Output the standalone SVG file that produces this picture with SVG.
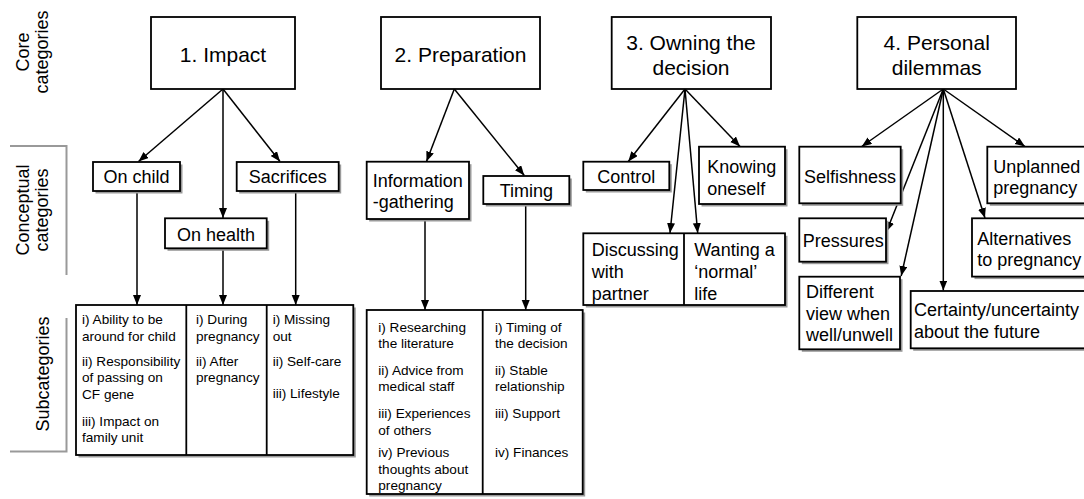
<svg xmlns="http://www.w3.org/2000/svg" width="1084" height="499" viewBox="0 0 1084 499">
<defs>
<marker id="ah" markerUnits="userSpaceOnUse" markerWidth="11" markerHeight="9" refX="10" refY="4" orient="auto"><path d="M0,0 L10,4 L0,8 z" fill="#000"/></marker>
</defs>
<style>
text{font-family:"Liberation Sans",Arial,Helvetica,sans-serif;fill:#000}
.core rect{fill:#fff;stroke:#000;stroke-width:1.8}
.core text{font-size:21px;text-anchor:middle}
.box{fill:#fff;stroke:#000;stroke-width:1.8}
.sh{fill:#9a9a9a}
.cc{font-size:18px}
.mid{text-anchor:middle}
.sub{font-size:13.6px}
.lbl{font-size:18px;text-anchor:middle}
.br{fill:none;stroke:#999;stroke-width:2}
.con line{stroke:#000;stroke-width:1.5}
.arr{marker-end:url(#ah)}
.div{stroke:#000;stroke-width:1.8}
</style>
<rect width="1084" height="499" fill="#fff"/>

<g id="axis-labels">
<text class="lbl" transform="translate(28.5,52) rotate(-90)">Core</text>
<text class="lbl" transform="translate(48,52) rotate(-90)">categories</text>
<text class="lbl" transform="translate(28.5,210) rotate(-90)">Conceptual</text>
<text class="lbl" transform="translate(48,210) rotate(-90)">categories</text>
<text class="lbl" transform="translate(48.5,374) rotate(-90)">Subcategories</text>
<path class="br" d="M10,146 H66.5 V275"/>
<path class="br" d="M66.5,318 V451.5 H10"/>
</g>

<g id="connectors" class="con">
<line class="arr" x1="223" y1="89" x2="138.5" y2="161.5"/>
<line class="arr" x1="223" y1="89" x2="223" y2="218"/>
<line class="arr" x1="223" y1="89" x2="280" y2="161.5"/>
<line class="arr" x1="137" y1="191" x2="137" y2="305"/>
<line class="arr" x1="223" y1="248.5" x2="223" y2="305"/>
<line class="arr" x1="295.7" y1="191" x2="295.7" y2="305"/>
<line class="arr" x1="454.3" y1="89" x2="426.5" y2="161.5"/>
<line class="arr" x1="454.3" y1="89" x2="524.3" y2="175.5"/>
<line class="arr" x1="425" y1="219" x2="425" y2="310"/>
<line class="arr" x1="525.7" y1="204" x2="525.7" y2="310"/>
<line class="arr" x1="685" y1="89" x2="628.3" y2="161.5"/>
<line class="arr" x1="685" y1="89" x2="740" y2="146.5"/>
<line class="arr" x1="685" y1="89" x2="670" y2="233"/>
<line class="arr" x1="685" y1="89" x2="697.7" y2="233"/>
<line class="arr" x1="943.3" y1="89" x2="861.7" y2="146.5"/>
<line class="arr" x1="943.3" y1="89" x2="886.5" y2="231.5"/>
<line class="arr" x1="943.3" y1="89" x2="901.2" y2="276"/>
<line class="arr" x1="943.3" y1="89" x2="943.3" y2="290.5"/>
<line class="arr" x1="943.3" y1="89" x2="985" y2="218"/>
<line class="arr" x1="943.3" y1="89" x2="1025" y2="146.5"/>
</g>

<g id="core-impact" class="core"><rect x="151" y="17" width="144" height="72"/><text x="223" y="61.5">1. Impact</text></g>
<g id="core-preparation" class="core"><rect x="381" y="17" width="159" height="72"/><text x="460.5" y="61.5">2. Preparation</text></g>
<g id="core-owning" class="core"><rect x="611.7" y="17" width="159.3" height="72"/><text x="691" y="50">3. Owning the</text><text x="691" y="75">decision</text></g>
<g id="core-personal" class="core"><rect x="857.3" y="17" width="158.7" height="72"/><text x="936.7" y="50">4. Personal</text><text x="936.7" y="75">dilemmas</text></g>

<g id="on-child"><rect class="sh" x="95.5" y="164.5" width="87" height="29"/><rect class="box" x="93" y="162" width="87" height="29"/><text class="cc mid" x="136.5" y="183.3">On child</text></g>
<g id="sacrifices"><rect class="sh" x="239.2" y="164.5" width="102" height="29"/><rect class="box" x="236.7" y="162" width="102" height="29"/><text class="cc mid" x="287.7" y="183.3">Sacrifices</text></g>
<g id="on-health"><rect class="sh" x="167.5" y="220.8" width="101.7" height="30"/><rect class="box" x="165" y="218.3" width="101.7" height="30"/><text class="cc mid" x="216" y="240.5">On health</text></g>

<g id="info-gathering"><rect class="sh" x="369.2" y="164.2" width="102.3" height="57.3"/><rect class="box" x="366.7" y="161.7" width="102.3" height="57.3"/><text class="cc" x="372.7" y="186.5">Information</text><text class="cc" x="372.7" y="208">-gathering</text></g>
<g id="timing"><rect class="sh" x="485.8" y="178.5" width="86" height="28"/><rect class="box" x="483.3" y="176" width="86" height="28"/><text class="cc mid" x="526.3" y="196.5">Timing</text></g>

<g id="control"><rect class="sh" x="585.8" y="164.2" width="86" height="28.3"/><rect class="box" x="583.3" y="161.7" width="86" height="28.3"/><text class="cc mid" x="626.3" y="183.3">Control</text></g>
<g id="knowing-oneself"><rect class="sh" x="701.5" y="149.2" width="86" height="57.3"/><rect class="box" x="699" y="146.7" width="86" height="57.3"/><text class="cc" x="707.3" y="173">Knowing</text><text class="cc" x="707.3" y="194.5">oneself</text></g>
<g id="discussing-wanting"><rect class="sh" x="585.8" y="235.8" width="201.7" height="71.7"/><rect class="box" x="583.3" y="233.3" width="201.7" height="71.7"/><line class="div" x1="684" y1="233.3" x2="684" y2="305"/>
<text class="cc" x="591.7" y="256.3">Discussing</text><text class="cc" x="591.7" y="278">with</text><text class="cc" x="591.7" y="299.7">partner</text>
<text class="cc" x="694.3" y="256.3">Wanting a</text><text class="cc" x="694.3" y="278">‘normal’</text><text class="cc" x="694.3" y="299.7">life</text></g>

<g id="selfishness"><rect class="sh" x="801.8" y="149.2" width="101.4" height="56.6"/><rect class="box" x="799.3" y="146.7" width="101.4" height="56.6"/><text class="cc mid" x="850" y="183">Selfishness</text></g>
<g id="unplanned"><rect class="sh" x="989.8" y="149.2" width="100" height="56.6"/><rect class="box" x="987.3" y="146.7" width="100" height="56.6"/><text class="cc" x="993.3" y="172.5">Unplanned</text><text class="cc" x="993.3" y="194">pregnancy</text></g>
<g id="pressures"><rect class="sh" x="801.8" y="220.8" width="86.7" height="43.4"/><rect class="box" x="799.3" y="218.3" width="86.7" height="43.4"/><text class="cc" x="802.7" y="246.5">Pressures</text></g>
<g id="different-view"><rect class="sh" x="801.8" y="279.2" width="100.7" height="72.6"/><rect class="box" x="799.3" y="276.7" width="100.7" height="72.6"/><text class="cc" x="806" y="298">Different</text><text class="cc" x="806" y="319.5">view when</text><text class="cc" x="806" y="341">well/unwell</text></g>
<g id="alternatives"><rect class="sh" x="974.5" y="220.8" width="115" height="58.3"/><rect class="box" x="972" y="218.3" width="115" height="58.3"/><text class="cc" x="977.3" y="244.5">Alternatives</text><text class="cc" x="977.3" y="266">to pregnancy</text></g>
<g id="certainty"><rect class="sh" x="913.2" y="293.5" width="180" height="57.3"/><rect class="box" x="910.7" y="291" width="180" height="57.3"/><text class="cc" x="914" y="316.3">Certainty/uncertainty</text><text class="cc" x="914" y="338">about the future</text></g>

<g id="sub-impact"><rect class="sh" x="78.5" y="307.5" width="277.3" height="150"/><rect class="box" x="76" y="305" width="277.3" height="150"/>
<line class="div" x1="186.3" y1="305" x2="186.3" y2="455"/><line class="div" x1="266.7" y1="305" x2="266.7" y2="455"/>
<text class="sub" x="82" y="324.3">i) Ability to be</text><text class="sub" x="82" y="340.7">around for child</text>
<text class="sub" x="82" y="365.7">ii) Responsibility</text><text class="sub" x="82" y="382">of passing on</text><text class="sub" x="82" y="399">CF gene</text>
<text class="sub" x="82" y="425.7">iii) Impact on</text><text class="sub" x="82" y="442.3">family unit</text>
<text class="sub" x="196" y="324.3">i) During</text><text class="sub" x="196" y="340.7">pregnancy</text>
<text class="sub" x="196" y="365.7">ii) After</text><text class="sub" x="196" y="382">pregnancy</text>
<text class="sub" x="272.7" y="324.3">i) Missing</text><text class="sub" x="272.7" y="340.7">out</text>
<text class="sub" x="272.7" y="365.7">ii) Self-care</text><text class="sub" x="272.7" y="397.7">iii) Lifestyle</text>
</g>

<g id="sub-preparation"><rect class="sh" x="369.2" y="312.5" width="216" height="184"/><rect class="box" x="366.7" y="310" width="216" height="184"/>
<line class="div" x1="482.7" y1="310" x2="482.7" y2="494"/>
<text class="sub" x="378.3" y="331.7">i) Researching</text><text class="sub" x="378.3" y="347.5">the literature</text>
<text class="sub" x="378.3" y="375">ii) Advice from</text><text class="sub" x="378.3" y="391">medical staff</text>
<text class="sub" x="378.3" y="418.3">iii) Experiences</text><text class="sub" x="378.3" y="435">of others</text>
<text class="sub" x="378.3" y="456.7">iv) Previous</text><text class="sub" x="378.3" y="473.5">thoughts about</text><text class="sub" x="378.3" y="490">pregnancy</text>
<text class="sub" x="495" y="331.7">i) Timing of</text><text class="sub" x="495" y="347.5">the decision</text>
<text class="sub" x="495" y="375">ii) Stable</text><text class="sub" x="495" y="391">relationship</text>
<text class="sub" x="495" y="418.3">iii) Support</text>
<text class="sub" x="495" y="456.7">iv) Finances</text>
</g>
</svg>
